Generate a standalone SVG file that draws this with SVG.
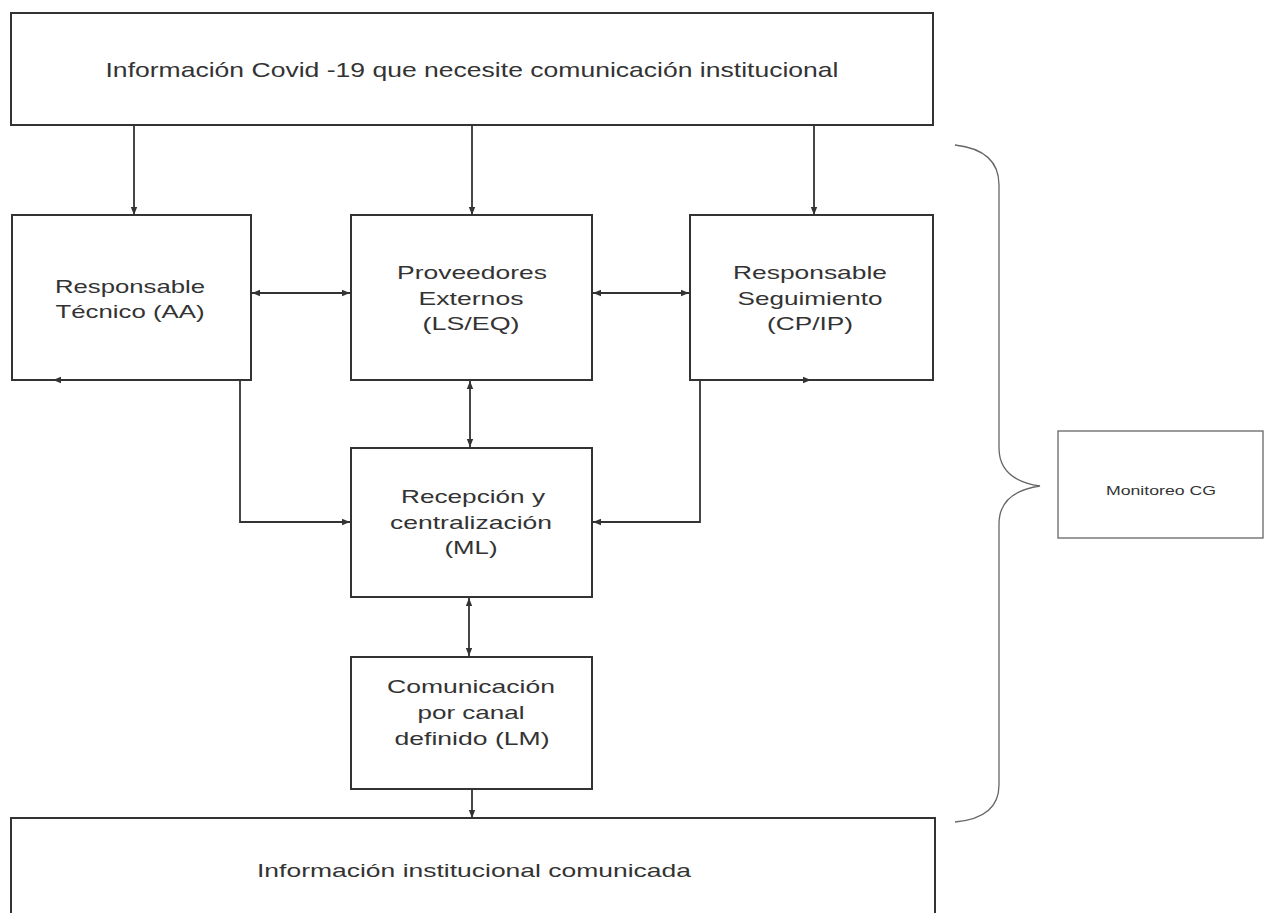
<svg xmlns="http://www.w3.org/2000/svg" width="1265" height="913" viewBox="0 0 1265 913">
<style>
.box{fill:#fff;stroke:#333;stroke-width:2}
.t{font-family:"Liberation Sans",Arial,sans-serif;font-size:19px;fill:#333;text-anchor:middle}
.c{fill:none;stroke:#333;stroke-width:1.8}
.b{fill:none;stroke:#666;stroke-width:1.3}
</style>
<defs>
<marker id="ah" viewBox="0 0 10 10" refX="10" refY="5" markerWidth="8" markerHeight="8" markerUnits="userSpaceOnUse" orient="auto-start-reverse">
<path d="M0,1 L10,5 L0,9 Z" fill="#333"/>
</marker>
</defs>
<rect width="1265" height="913" fill="#fff"/>
<g id="n-top">
<rect class="box" x="11" y="13" width="922" height="112"/>
<text class="t" x="472" y="77" textLength="733" lengthAdjust="spacingAndGlyphs" style="font-size:21px">Información Covid -19 que necesite comunicación institucional</text>
</g>
<g id="n-rt">
<rect class="box" x="12" y="215" width="239" height="165"/>
<text class="t" x="130" y="293" textLength="150" lengthAdjust="spacingAndGlyphs">Responsable</text>
<text class="t" x="130" y="318" textLength="149" lengthAdjust="spacingAndGlyphs">Técnico (AA)</text>
</g>
<g id="n-pe">
<rect class="box" x="351" y="215" width="241" height="165"/>
<text class="t" x="472" y="279" textLength="150" lengthAdjust="spacingAndGlyphs">Proveedores</text>
<text class="t" x="471" y="305" textLength="105" lengthAdjust="spacingAndGlyphs">Externos</text>
<text class="t" x="471" y="330" textLength="97" lengthAdjust="spacingAndGlyphs">(LS/EQ)</text>
</g>
<g id="n-rs">
<rect class="box" x="690" y="215" width="243" height="165"/>
<text class="t" x="810" y="279" textLength="154" lengthAdjust="spacingAndGlyphs">Responsable</text>
<text class="t" x="810" y="305" textLength="145" lengthAdjust="spacingAndGlyphs">Seguimiento</text>
<text class="t" x="810" y="330" textLength="86" lengthAdjust="spacingAndGlyphs">(CP/IP)</text>
</g>
<g id="n-ml">
<rect class="box" x="351" y="448" width="241" height="149"/>
<text class="t" x="473" y="503" textLength="144" lengthAdjust="spacingAndGlyphs">Recepción y</text>
<text class="t" x="471" y="529" textLength="162" lengthAdjust="spacingAndGlyphs">centralización</text>
<text class="t" x="471" y="554" textLength="53" lengthAdjust="spacingAndGlyphs">(ML)</text>
</g>
<g id="n-com">
<rect class="box" x="351" y="657" width="241" height="132"/>
<text class="t" x="471" y="693" textLength="168" lengthAdjust="spacingAndGlyphs">Comunicación</text>
<text class="t" x="471" y="719" textLength="107" lengthAdjust="spacingAndGlyphs">por canal</text>
<text class="t" x="472" y="745" textLength="155" lengthAdjust="spacingAndGlyphs">definido (LM)</text>
</g>
<g id="n-bottom">
<rect class="box" x="11" y="818" width="924" height="110"/>
<text class="t" x="474" y="877" textLength="434" lengthAdjust="spacingAndGlyphs">Información institucional comunicada</text>
</g>
<g id="brace">
<path class="b" d="M955,145 Q999,150 999,185 L999,448 Q999,480 1040,486 Q999,492 999,524 L999,785 Q999,818 955,822"/>
</g>
<g id="n-mon">
<rect x="1058" y="431" width="205" height="107" fill="#fff" stroke="#666" stroke-width="1.3"/>
<text class="t" x="1161" y="495" textLength="110" lengthAdjust="spacingAndGlyphs" style="font-size:12px">Monitoreo CG</text>
</g>
<g id="connectors">
<line class="c" x1="134" y1="125" x2="134" y2="215" marker-end="url(#ah)"/>
<line class="c" x1="472" y1="125" x2="472" y2="215" marker-end="url(#ah)"/>
<line class="c" x1="814" y1="125" x2="814" y2="215" marker-end="url(#ah)"/>
<line class="c" x1="252" y1="293" x2="350" y2="293" marker-start="url(#ah)" marker-end="url(#ah)"/>
<line class="c" x1="593" y1="293" x2="689" y2="293" marker-start="url(#ah)" marker-end="url(#ah)"/>
<line class="c" x1="470" y1="381" x2="470" y2="447" marker-start="url(#ah)" marker-end="url(#ah)"/>
<polyline class="c" points="240,381 240,522 350,522" marker-end="url(#ah)"/>
<polyline class="c" points="700,381 700,522 593,522" marker-end="url(#ah)"/>
<line class="c" x1="469" y1="598" x2="469" y2="656" marker-start="url(#ah)" marker-end="url(#ah)"/>
<line class="c" x1="472" y1="789" x2="472" y2="818" marker-end="url(#ah)"/>
<line class="c" x1="70" y1="380" x2="53" y2="380" marker-end="url(#ah)"/>
<line class="c" x1="795" y1="380" x2="811" y2="380" marker-end="url(#ah)"/>
</g>
</svg>
